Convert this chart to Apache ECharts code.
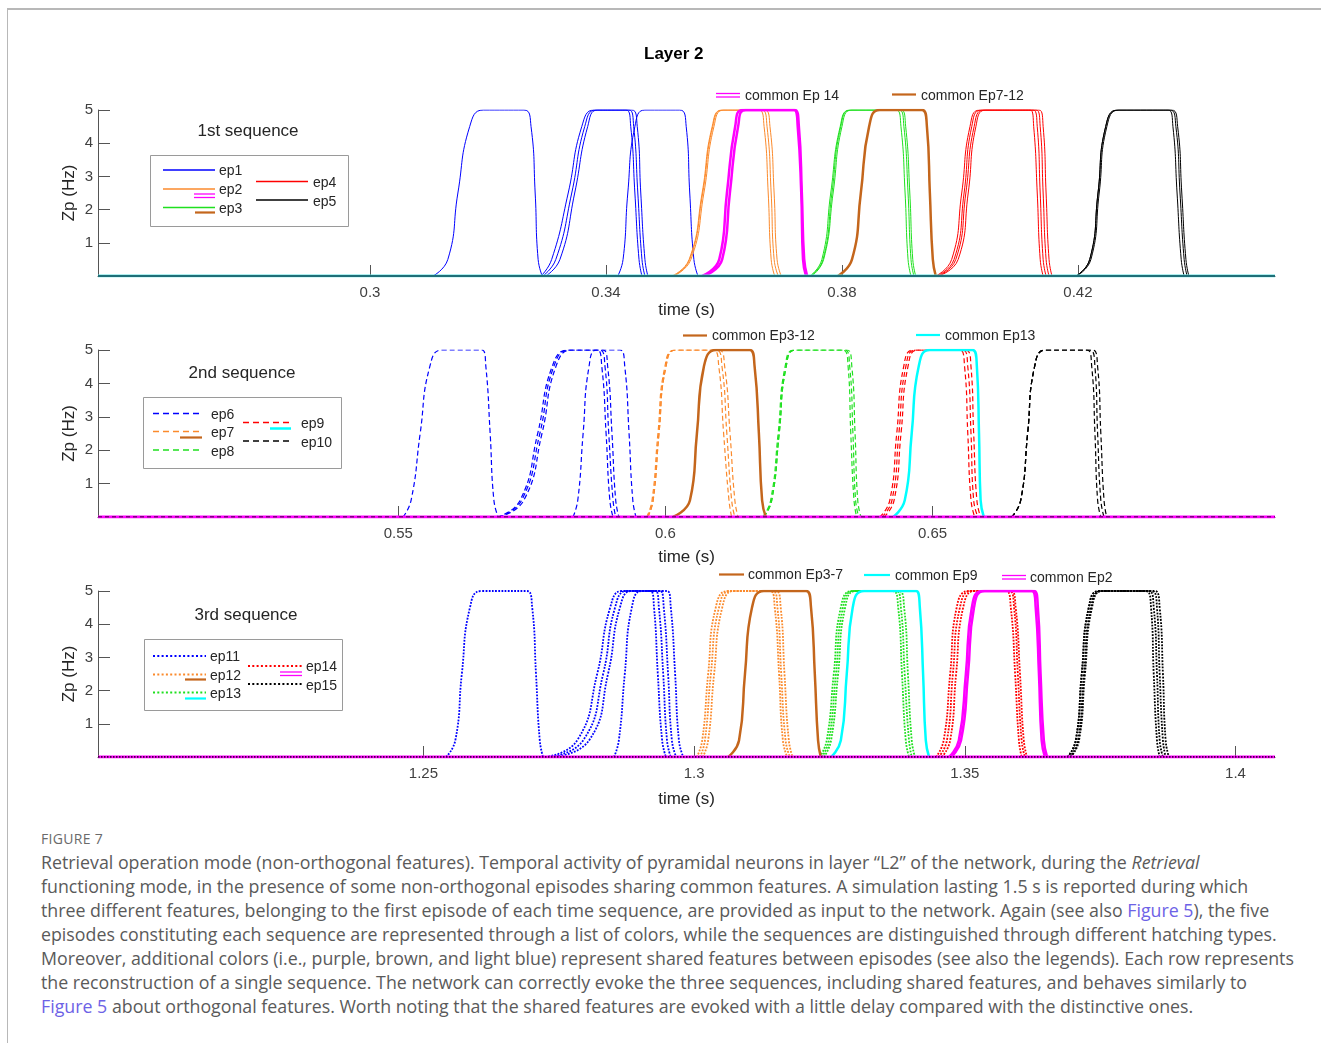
<!DOCTYPE html>
<html>
<head>
<meta charset="utf-8">
<script src="https://cdn.jsdelivr.net/npm/echarts@6/dist/echarts.min.js"></script>
<style>
html, body { margin: 0; padding: 0; background: #fff; }
body { width: 1321px; height: 1043px; position: relative; overflow: hidden; }
.frame { position: absolute; left: 7px; top: 8px; right: 0; bottom: 0; border-top: 2px solid #b8b8b8; border-left: 1px solid #b8b8b8; }
#chart { position: absolute; left: 0; top: 0; width: 1321px; height: 820px; }
.caption { position: absolute; left: 41px; top: 828px; font-family: "Open Sans", Lato, sans-serif; color: #5a5a5a; }
.caption .fig { font-size: 14px; line-height: 22px; color: #6a6a6a; letter-spacing: 0.3px; }
.caption p { margin: 0; font-size: 17.8px; line-height: 24px; white-space: nowrap; }
.caption a { color: #6d62e6; text-decoration: none; }
</style>
</head>
<body>
<div class="frame"></div>
<div id="chart"></div>
<div class="caption">
  <div class="fig">FIGURE 7</div>
  <p>Retrieval operation mode (non-orthogonal features). Temporal activity of pyramidal neurons in layer “L2” of the network, during the <i>Retrieval</i></p>
  <p>functioning mode, in the presence of some non-orthogonal episodes sharing common features. A simulation lasting 1.5 s is reported during which</p>
  <p>three different features, belonging to the first episode of each time sequence, are provided as input to the network. Again (see also <a>Figure 5</a>), the five</p>
  <p>episodes constituting each sequence are represented through a list of colors, while the sequences are distinguished through different hatching types.</p>
  <p>Moreover, additional colors (i.e., purple, brown, and light blue) represent shared features between episodes (see also the legends). Each row represents</p>
  <p>the reconstruction of a single sequence. The network can correctly evoke the three sequences, including shared features, and behaves similarly to</p>
  <p><a>Figure 5</a> about orthogonal features. Worth noting that the shared features are evoked with a little delay compared with the distinctive ones.</p>
</div>
<script>
const zpLevels = [0, 0.5, 2.5, 4.5, 5, 5, 4.5, 2.5, 0.5, 0];

// axis ranges (s) and tick labels for each row
const timeRanges = [[0.2539, 0.4534], [0.4938, 0.7141], [1.1899, 1.4073]];
const timeTicks = [[0.3, 0.34, 0.38, 0.42], [0.55, 0.6, 0.65], [1.25, 1.3, 1.35, 1.4]];

// 1st sequence: one row of times per neuron
const seq1Ep1 = [
  [0.3107, 0.3132, 0.3149, 0.3169, 0.3192, 0.3261, 0.3273, 0.3280, 0.3285, 0.3292],
  [0.3290, 0.3308, 0.3336, 0.3359, 0.3380, 0.3434, 0.3442, 0.3449, 0.3456, 0.3461],
  [0.3293, 0.3315, 0.3342, 0.3364, 0.3383, 0.3439, 0.3447, 0.3454, 0.3461, 0.3466],
  [0.3298, 0.3322, 0.3347, 0.3369, 0.3386, 0.3444, 0.3453, 0.3459, 0.3466, 0.3471],
  [0.3420, 0.3429, 0.3437, 0.3449, 0.3466, 0.3525, 0.3536, 0.3542, 0.3549, 0.3556]
];
const seq1Ep2 = [
  [0.3512, 0.3541, 0.3563, 0.3580, 0.3597, 0.3659, 0.3668, 0.3675, 0.3680, 0.3686],
  [0.3514, 0.3542, 0.3564, 0.3581, 0.3598, 0.3664, 0.3673, 0.3680, 0.3685, 0.3692],
  [0.3515, 0.3544, 0.3566, 0.3583, 0.3600, 0.3669, 0.3678, 0.3685, 0.3690, 0.3697]
];
const seq1Ep3 = [
  [0.3746, 0.3766, 0.3781, 0.3797, 0.3814, 0.3892, 0.3900, 0.3907, 0.3912, 0.3917],
  [0.3747, 0.3768, 0.3783, 0.3798, 0.3815, 0.3897, 0.3905, 0.3912, 0.3917, 0.3922],
  [0.3749, 0.3769, 0.3785, 0.3800, 0.3817, 0.3900, 0.3908, 0.3915, 0.3920, 0.3925]
];
const seq1Ep4 = [
  [0.3959, 0.3986, 0.4003, 0.4017, 0.4034, 0.4119, 0.4125, 0.4131, 0.4136, 0.4141],
  [0.3961, 0.3990, 0.4007, 0.4020, 0.4037, 0.4124, 0.4131, 0.4136, 0.4141, 0.4146],
  [0.3963, 0.3993, 0.4010, 0.4024, 0.4041, 0.4129, 0.4136, 0.4141, 0.4146, 0.4151],
  [0.3964, 0.3997, 0.4014, 0.4027, 0.4044, 0.4134, 0.4141, 0.4146, 0.4151, 0.4156]
];
const seq1Ep5 = [
  [0.4197, 0.4220, 0.4234, 0.4247, 0.4268, 0.4353, 0.4361, 0.4368, 0.4375, 0.4380],
  [0.4198, 0.4222, 0.4236, 0.4249, 0.4270, 0.4356, 0.4366, 0.4373, 0.4380, 0.4385],
  [0.4197, 0.4220, 0.4234, 0.4247, 0.4268, 0.4359, 0.4369, 0.4376, 0.4383, 0.4388]
];
const seq1CommonEp14 = [
  [0.3563, 0.3592, 0.3605, 0.3619, 0.3632, 0.3719, 0.3725, 0.3731, 0.3734, 0.3739],
  [0.3566, 0.3597, 0.3610, 0.3624, 0.3637, 0.3720, 0.3727, 0.3732, 0.3736, 0.3741]
];
const seq1CommonEp7to12 = [
  [0.3793, 0.3817, 0.3832, 0.3846, 0.3864, 0.3936, 0.3944, 0.3949, 0.3954, 0.3959]
];

// 2nd sequence
const seq2Ep6 = [
  [0.5509, 0.5524, 0.5541, 0.5559, 0.5582, 0.5657, 0.5664, 0.5672, 0.5679, 0.5687],
  [0.5685, 0.5728, 0.5761, 0.5788, 0.5818, 0.5872, 0.5881, 0.5889, 0.5896, 0.5902],
  [0.5687, 0.5731, 0.5765, 0.5791, 0.5821, 0.5877, 0.5887, 0.5894, 0.5902, 0.5907],
  [0.5688, 0.5735, 0.5769, 0.5795, 0.5825, 0.5883, 0.5892, 0.5900, 0.5907, 0.5913],
  [0.5827, 0.5836, 0.5846, 0.5857, 0.5872, 0.5915, 0.5924, 0.5932, 0.5939, 0.5945]
];
const seq2Ep7 = [
  [0.5965, 0.5975, 0.5986, 0.5999, 0.6018, 0.6089, 0.6100, 0.6109, 0.6119, 0.6124],
  [0.5967, 0.5977, 0.5988, 0.6001, 0.6020, 0.6095, 0.6106, 0.6115, 0.6124, 0.6130],
  [0.5967, 0.5977, 0.5988, 0.6001, 0.6020, 0.6100, 0.6111, 0.6121, 0.6130, 0.6136]
];
const seq2Ep8 = [
  [0.6182, 0.6197, 0.6211, 0.6224, 0.6242, 0.6332, 0.6342, 0.6347, 0.6353, 0.6358],
  [0.6184, 0.6199, 0.6213, 0.6226, 0.6244, 0.6336, 0.6345, 0.6351, 0.6356, 0.6362],
  [0.6184, 0.6199, 0.6213, 0.6226, 0.6244, 0.6340, 0.6349, 0.6355, 0.6360, 0.6366]
];
const seq2Ep9 = [
  [0.6401, 0.6420, 0.6433, 0.6446, 0.6465, 0.6551, 0.6560, 0.6566, 0.6572, 0.6579],
  [0.6405, 0.6424, 0.6437, 0.6450, 0.6469, 0.6557, 0.6566, 0.6572, 0.6577, 0.6585],
  [0.6409, 0.6428, 0.6441, 0.6454, 0.6473, 0.6562, 0.6572, 0.6577, 0.6583, 0.6590]
];
const seq2Ep10 = [
  [0.6648, 0.6665, 0.6678, 0.6691, 0.6712, 0.6789, 0.6798, 0.6804, 0.6809, 0.6815],
  [0.6648, 0.6665, 0.6678, 0.6691, 0.6712, 0.6794, 0.6804, 0.6809, 0.6815, 0.6821],
  [0.6648, 0.6665, 0.6678, 0.6691, 0.6712, 0.6800, 0.6809, 0.6815, 0.6821, 0.6826]
];
const seq2CommonEp3to12 = [
  [0.6014, 0.6046, 0.6059, 0.6072, 0.6095, 0.6158, 0.6167, 0.6175, 0.6181, 0.6188]
];
const seq2CommonEp13 = [
  [0.6426, 0.6448, 0.6461, 0.6474, 0.6495, 0.6575, 0.6583, 0.6587, 0.6590, 0.6596]
];

// 3rd sequence
const seq3Ep11 = [
  [1.2542, 1.2559, 1.2571, 1.2586, 1.2607, 1.2691, 1.2701, 1.2708, 1.2715, 1.2721],
  [1.2725, 1.2784, 1.2821, 1.2845, 1.2867, 1.2919, 1.2926, 1.2933, 1.2941, 1.2948],
  [1.2730, 1.2795, 1.2832, 1.2854, 1.2876, 1.2928, 1.2935, 1.2943, 1.2950, 1.2957],
  [1.2738, 1.2806, 1.2841, 1.2863, 1.2885, 1.2937, 1.2944, 1.2952, 1.2959, 1.2967],
  [1.2852, 1.2861, 1.2872, 1.2885, 1.2904, 1.2950, 1.2957, 1.2965, 1.2972, 1.2980]
];
const seq3Ep12 = [
  [1.3005, 1.3015, 1.3026, 1.3040, 1.3063, 1.3140, 1.3149, 1.3157, 1.3164, 1.3172],
  [1.3011, 1.3020, 1.3031, 1.3046, 1.3068, 1.3145, 1.3154, 1.3161, 1.3169, 1.3177],
  [1.3016, 1.3026, 1.3037, 1.3052, 1.3074, 1.3151, 1.3160, 1.3167, 1.3175, 1.3182]
];
const seq3Ep13 = [
  [1.3232, 1.3245, 1.3258, 1.3271, 1.3292, 1.3367, 1.3377, 1.3384, 1.3391, 1.3397],
  [1.3236, 1.3249, 1.3262, 1.3275, 1.3295, 1.3373, 1.3382, 1.3389, 1.3397, 1.3402],
  [1.3240, 1.3253, 1.3266, 1.3279, 1.3299, 1.3378, 1.3388, 1.3395, 1.3402, 1.3408]
];
const seq3Ep14 = [
  [1.3447, 1.3461, 1.3473, 1.3485, 1.3508, 1.3576, 1.3585, 1.3593, 1.3600, 1.3605],
  [1.3452, 1.3467, 1.3478, 1.3491, 1.3513, 1.3582, 1.3591, 1.3598, 1.3605, 1.3611],
  [1.3458, 1.3473, 1.3484, 1.3497, 1.3519, 1.3585, 1.3594, 1.3602, 1.3609, 1.3615]
];
const seq3Ep15 = [
  [1.3690, 1.3705, 1.3716, 1.3729, 1.3749, 1.3834, 1.3844, 1.3849, 1.3855, 1.3860],
  [1.3694, 1.3709, 1.3720, 1.3733, 1.3753, 1.3840, 1.3849, 1.3855, 1.3860, 1.3866],
  [1.3696, 1.3711, 1.3722, 1.3735, 1.3755, 1.3845, 1.3855, 1.3860, 1.3866, 1.3871],
  [1.3690, 1.3705, 1.3716, 1.3729, 1.3749, 1.3851, 1.3860, 1.3866, 1.3871, 1.3877]
];
const seq3CommonEp3to7 = [
  [1.3063, 1.3083, 1.3094, 1.3107, 1.3129, 1.3207, 1.3216, 1.3223, 1.3229, 1.3234]
];
const seq3CommonEp9 = [
  [1.3253, 1.3271, 1.3282, 1.3293, 1.3314, 1.3410, 1.3417, 1.3423, 1.3428, 1.3434]
];
const seq3CommonEp2 = [
  [1.3471, 1.3489, 1.3502, 1.3513, 1.3533, 1.3624, 1.3631, 1.3637, 1.3642, 1.3648],
  [1.3475, 1.3493, 1.3506, 1.3517, 1.3537, 1.3628, 1.3635, 1.3640, 1.3646, 1.3652]
];

const C = {
  blue: '#0000ff', orange: '#fb8a2c', green: '#1fe01f', red: '#ff0000',
  black: '#000000', magenta: '#ff00ff', brown: '#c4661c', cyan: '#00ffff'
};
const DASH = [5, 3], DOT = [1.8, 1.4];
const FONT = '"Liberation Sans", Arial, sans-serif';

const chart = echarts.init(document.getElementById('chart'));
const series = [];

const addPulses = (g, curves, lineStyle) => {
  curves.forEach(times => {
    series.push({
      type: 'line', xAxisIndex: g, yAxisIndex: g,
      data: times.map((t, i) => [t, zpLevels[i]]),
      symbol: 'none', smooth: 0.5, silent: true,
      lineStyle: lineStyle
    });
  });
}
const addBaseline = (g, lineStyle) => {
  series.push({
    type: 'line', xAxisIndex: g, yAxisIndex: g, z: 3,
    data: [[timeRanges[g][0], 0], [timeRanges[g][1], 0]],
    symbol: 'none', silent: true, lineStyle: lineStyle
  });
}

// row 1 (solid)
addPulses(0, seq1Ep1, {color: C.blue, width: 1});
addPulses(0, seq1Ep2, {color: C.orange, width: 1});
addPulses(0, seq1Ep3, {color: C.green, width: 1});
addPulses(0, seq1Ep4, {color: C.red, width: 1});
addPulses(0, seq1Ep5, {color: C.black, width: 1});
addPulses(0, seq1CommonEp14, {color: C.magenta, width: 2.5});
addPulses(0, seq1CommonEp7to12, {color: C.brown, width: 2.5});
addBaseline(0, {color: '#5fe0e0', width: 3.2});
addBaseline(0, {color: '#1f6f78', width: 1.8});

// row 2 (dashed)
addPulses(1, seq2Ep6, {color: C.blue, width: 1.2, type: DASH});
addPulses(1, seq2Ep7, {color: C.orange, width: 1.2, type: DASH});
addPulses(1, seq2Ep8, {color: C.green, width: 1.2, type: DASH});
addPulses(1, seq2Ep9, {color: C.red, width: 1.2, type: DASH});
addPulses(1, seq2Ep10, {color: C.black, width: 1.2, type: DASH});
addPulses(1, seq2CommonEp3to12, {color: C.brown, width: 2.5});
addPulses(1, seq2CommonEp13, {color: C.cyan, width: 2.5});
addBaseline(1, {color: C.magenta, width: 3});
addBaseline(1, {color: C.black, width: 1.2, type: [4, 3]});

// row 3 (dotted)
addPulses(2, seq3Ep11, {color: C.blue, width: 1.8, type: DOT});
addPulses(2, seq3Ep12, {color: C.orange, width: 1.8, type: DOT});
addPulses(2, seq3Ep13, {color: C.green, width: 1.8, type: DOT});
addPulses(2, seq3Ep14, {color: C.red, width: 1.8, type: DOT});
addPulses(2, seq3Ep15, {color: C.black, width: 1.8, type: DOT});
addPulses(2, seq3CommonEp3to7, {color: C.brown, width: 2.5});
addPulses(2, seq3CommonEp9, {color: C.cyan, width: 2.5});
addPulses(2, seq3CommonEp2, {color: C.magenta, width: 2.5});
addBaseline(2, {color: C.magenta, width: 3});
addBaseline(2, {color: C.black, width: 1.5, type: [1.5, 1.5]});

const gridTops = [110, 350, 591];
const gridHeights = [166, 167, 166];
const nameGaps = [26, 32, 34];

const xAxes = timeRanges.map((r, i) => ({
  gridIndex: i, type: 'value', min: r[0], max: r[1],
  axisLine: {show: true, lineStyle: {color: '#555'}},
  axisTick: {show: true, inside: true, length: 11, customValues: timeTicks[i], lineStyle: {color: '#555'}},
  axisLabel: {
    customValues: timeTicks[i], color: '#404040', fontSize: 15, margin: 9, fontFamily: FONT,
    formatter: v => String(Math.round(v * 1000) / 1000)
  },
  splitLine: {show: false},
  name: 'time (s)', nameLocation: 'middle', nameGap: nameGaps[i],
  nameTextStyle: {fontSize: 17, color: '#262626', fontFamily: FONT}
}));
const yAxes = timeRanges.map((r, i) => ({
  gridIndex: i, type: 'value', min: 0, max: 5, interval: 1,
  axisLine: {show: true, lineStyle: {color: '#555'}},
  axisTick: {show: true, inside: true, length: 12, lineStyle: {color: '#555'}},
  axisLabel: {color: '#404040', fontSize: 15, margin: 5, fontFamily: FONT, formatter: v => v === 0 ? '' : String(v)},
  splitLine: {show: false},
  name: 'Zp (Hz)', nameLocation: 'middle', nameGap: 20, nameMoveOverlap: false,
  nameTextStyle: {fontSize: 17, color: '#262626', fontFamily: FONT}
}));

// legend drawings
const gLine = (x1, x2, y, color, width, dash) => ({
  type: 'line', silent: true, z: 10,
  shape: {x1: x1, y1: y, x2: x2, y2: y},
  style: {stroke: color, lineWidth: width, lineDash: dash || null}
});
const gText = (x, y, text, size, align) => ({
  type: 'text', silent: true, z: 10, x: x, y: y,
  style: {text: text, font: size + 'px ' + FONT, fill: '#262626', textAlign: align || 'left', textVerticalAlign: 'middle'}
});
const gBox = (x, y, w, h) => ({
  type: 'rect', silent: true, z: 9,
  shape: {x: x, y: y, width: w, height: h},
  style: {fill: '#fff', stroke: '#9a9a9a', lineWidth: 1}
});
const LD = [6, 4], LO = [2, 2.3];

const graphic = [
  // row 1
  gText(248, 131.5, '1st sequence', 17, 'center'),
  gBox(150.5, 155.5, 198, 71),
  gLine(163, 215, 170, C.blue, 1.3),
  gLine(163, 215, 189, C.orange, 1.3),
  gLine(194, 215, 194, C.magenta, 1.3),
  gLine(194, 215, 197.5, C.magenta, 1.3),
  gLine(163, 215, 207.5, C.green, 1.3),
  gLine(195, 215, 212.5, C.brown, 2.2),
  gLine(256, 308, 181.5, C.red, 1.3),
  gLine(256, 308, 200, C.black, 1.3),
  gText(219, 171, 'ep1', 14), gText(219, 190, 'ep2', 14), gText(219, 209, 'ep3', 14),
  gText(313, 183, 'ep4', 14), gText(313, 202, 'ep5', 14),
  gLine(716, 740, 93.5, C.magenta, 1.3),
  gLine(716, 740, 97, C.magenta, 1.3),
  gText(745, 96, 'common Ep 14', 14),
  gLine(892, 916, 94.5, C.brown, 2.2),
  gText(921, 96, 'common Ep7-12', 14),
  // row 2
  gText(242, 373.5, '2nd sequence', 17, 'center'),
  gBox(143.5, 397.5, 198, 71),
  gLine(153, 202, 413.5, C.blue, 1.3, LD),
  gLine(153, 202, 431.5, C.orange, 1.3, LD),
  gLine(180, 202, 437.5, C.brown, 2.2),
  gLine(153, 202, 450, C.green, 1.3, LD),
  gLine(243, 291, 422.5, C.red, 1.3, LD),
  gLine(270, 291, 428.5, C.cyan, 2.5),
  gLine(243, 291, 441, C.black, 1.3, LD),
  gText(211, 415, 'ep6', 14), gText(211, 433, 'ep7', 14), gText(211, 452, 'ep8', 14),
  gText(301, 424, 'ep9', 14), gText(301, 443, 'ep10', 14),
  gLine(683, 707, 335.5, C.brown, 2.2),
  gText(712, 336.5, 'common Ep3-12', 14),
  gLine(916, 940, 335, C.cyan, 2.2),
  gText(945, 336, 'common Ep13', 14),
  // row 3
  gText(246, 615, '3rd sequence', 17, 'center'),
  gBox(144.5, 639.5, 198, 71),
  gLine(153, 206, 656, C.blue, 2, LO),
  gLine(153, 206, 674.5, C.orange, 2, LO),
  gLine(185, 206, 679.5, C.brown, 2.2),
  gLine(153, 206, 692.5, C.green, 2, LO),
  gLine(185, 206, 698.5, C.cyan, 2.2),
  gLine(248, 302, 666, C.red, 2, LO),
  gLine(280, 302, 672, C.magenta, 1.3),
  gLine(280, 302, 675.5, C.magenta, 1.3),
  gLine(248, 302, 684, C.black, 2, LO),
  gText(210, 657.5, 'ep11', 14), gText(210, 676, 'ep12', 14), gText(210, 694.5, 'ep13', 14),
  gText(306, 667.5, 'ep14', 14), gText(306, 686, 'ep15', 14),
  gLine(719, 744, 574.5, C.brown, 2.2),
  gText(748, 575, 'common Ep3-7', 14),
  gLine(864, 890, 575, C.cyan, 2.2),
  gText(895, 576, 'common Ep9', 14),
  gLine(1002, 1026, 575.5, C.magenta, 1.3),
  gLine(1002, 1026, 579, C.magenta, 1.3),
  gText(1030, 578, 'common Ep2', 14)
];

const option = {
  animation: false,
  textStyle: {fontFamily: FONT},
  title: {
    text: 'Layer 2', left: 639, top: 41,
    textStyle: {fontSize: 17, fontWeight: 'bold', color: '#000', fontFamily: FONT}
  },
  grid: gridTops.map((t, i) => ({left: 98, width: 1177, top: t, height: gridHeights[i]})),
  xAxis: xAxes,
  yAxis: yAxes,
  series: series,
  graphic: graphic
};
chart.setOption(option);
</script>
</body>
</html>
